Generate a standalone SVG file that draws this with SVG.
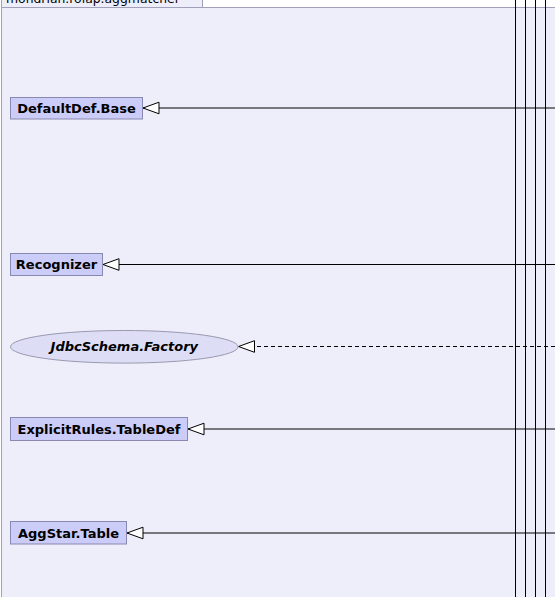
<svg xmlns="http://www.w3.org/2000/svg" width="555" height="597" viewBox="0 0 555 597">
<style>
.pkg{fill:#eeeefa;stroke:#a0a0b8;stroke-width:1}
.cls{fill:#ccccf8;stroke:#8888b0;stroke-width:1}
.iface{fill:#ddddf6;stroke:#9898b0;stroke-width:1}
.lbl{font-family:"DejaVu Sans",sans-serif;font-size:13px;font-weight:bold;fill:#000}
.ital{font-style:italic}
.pkgt{font-family:"DejaVu Sans",sans-serif;font-size:12.4px;fill:#000}
.edge{stroke:#000;stroke-width:1;fill:none}
.dash{stroke-dasharray:4,3}
</style>
<defs>
<marker id="gen" markerWidth="18" markerHeight="14" refX="17" refY="7" orient="auto" markerUnits="userSpaceOnUse">
<path d="M1,1.2 L17,7 L1,12.8 Z" fill="#fff" stroke="#000" stroke-width="1"/>
</marker>
</defs>
<rect x="0" y="0" width="555" height="597" fill="#fff"/>
<g id="package">
<rect class="pkg" x="1.5" y="-20" width="201" height="27.5"/>
<rect class="pkg" x="1.5" y="7.5" width="560" height="600"/>
<text class="pkgt" x="6" y="3">mondrian.rolap.aggmatcher</text>
</g>
<g id="connectors">
<path class="edge" d="M515.5,0 V597 M525.5,0 V597 M535.5,0 V597 M545.5,0 V597"/>
<path class="edge" d="M555,108 H143" marker-end="url(#gen)"/>
<path class="edge" d="M555,264.5 H103" marker-end="url(#gen)"/>
<path class="edge dash" d="M555,346.5 H238.5" marker-end="url(#gen)"/>
<path class="edge" d="M555,429 H188" marker-end="url(#gen)"/>
<path class="edge" d="M555,533 H127" marker-end="url(#gen)"/>
</g>
<g id="DefaultDef.Base">
<rect class="cls" x="10.5" y="97.5" width="132" height="21.5"/>
<text class="lbl" x="76.5" y="112.8" text-anchor="middle">DefaultDef.Base</text>
</g>
<g id="Recognizer">
<rect class="cls" x="10.5" y="253.5" width="92" height="22"/>
<text class="lbl" x="56.5" y="269" text-anchor="middle">Recognizer</text>
</g>
<g id="JdbcSchema.Factory">
<ellipse class="iface" cx="124.3" cy="346.8" rx="113.8" ry="16.3"/>
<text class="lbl ital" x="124.3" y="351.3" text-anchor="middle">JdbcSchema.Factory</text>
</g>
<g id="ExplicitRules.TableDef">
<rect class="cls" x="10.5" y="417.5" width="177" height="23"/>
<text class="lbl" x="99" y="433.5" text-anchor="middle">ExplicitRules.TableDef</text>
</g>
<g id="AggStar.Table">
<rect class="cls" x="10.5" y="521.5" width="116" height="22.5"/>
<text class="lbl" x="68.5" y="537.5" text-anchor="middle">AggStar.Table</text>
</g>
</svg>
